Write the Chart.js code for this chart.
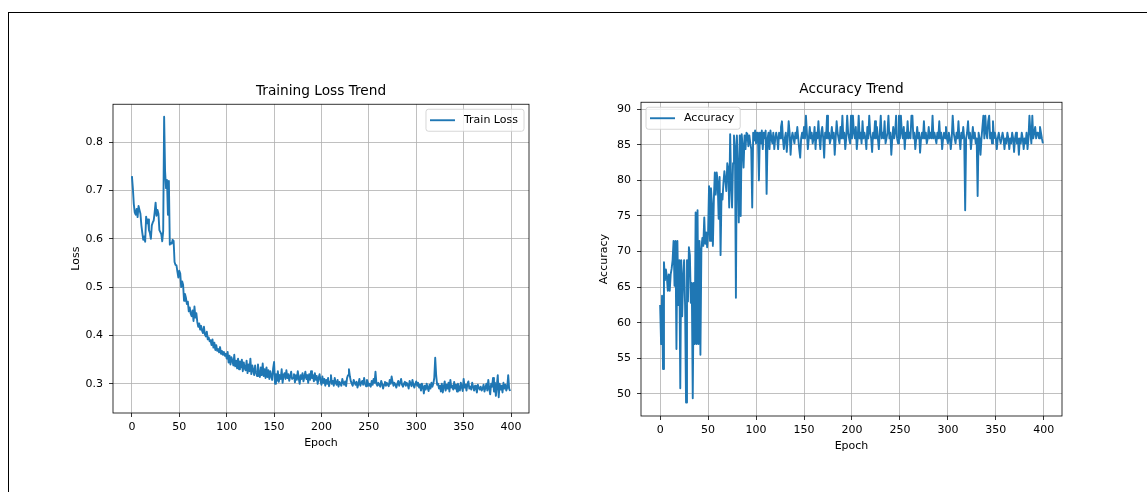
<!DOCTYPE html>
<html>
<head>
<meta charset="utf-8">
<title>Training Loss and Accuracy</title>
<script src="https://cdn.jsdelivr.net/npm/chart.js@4.4.1/dist/chart.umd.min.js"></script>
<style>
    html, body { margin: 0; padding: 0; background: #fff; }
    body { width: 1147px; height: 492px; position: relative; overflow: hidden; }
    .frame {
        position: absolute; left: 8px; top: 12px; width: 1200px; height: 500px;
        border-top: 1.5px solid #000; border-left: 1px solid #000;
    }
    canvas { position: absolute; top: 0; }
    #lossChart { left: 0; }
    #accuracyChart { left: 573px; }
</style>
</head>
<body>
<div class="frame"></div>
<canvas id="lossChart" width="573" height="492"></canvas>
<canvas id="accuracyChart" width="574" height="492"></canvas>
<script>
const epochTicks = [0, 50, 100, 150, 200, 250, 300, 350, 400];
const lossTicks = [0.3, 0.4, 0.5, 0.6, 0.7, 0.8];
const accuracyTicks = [50, 55, 60, 65, 70, 75, 80, 85, 90];

const epochRange = [-19.95, 418.95];
const lossRange = [0.2395, 0.8787];
const accuracyRange = [46.9, 90.98];

const trainLoss = [
    0.730, 0.705, 0.672, 0.655, 0.650, 0.662, 0.645, 0.668, 0.660, 0.652,
    0.628, 0.612, 0.598, 0.605, 0.594, 0.646, 0.632, 0.640, 0.618, 0.612,
    0.600, 0.628, 0.634, 0.638, 0.655, 0.675, 0.648, 0.660, 0.652, 0.618,
    0.614, 0.610, 0.595, 0.616, 0.853, 0.740, 0.705, 0.722, 0.650, 0.720,
    0.588, 0.592, 0.590, 0.598, 0.596, 0.552, 0.546, 0.545, 0.532, 0.520,
    0.534, 0.528, 0.500, 0.512, 0.505, 0.472, 0.486, 0.478, 0.465, 0.470,
    0.450, 0.458, 0.445, 0.440, 0.452, 0.430, 0.460, 0.437, 0.446, 0.428,
    0.418, 0.425, 0.412, 0.420, 0.410, 0.405, 0.418, 0.402, 0.398, 0.408,
    0.392, 0.396, 0.388, 0.390, 0.380, 0.392, 0.375, 0.385, 0.370, 0.380,
    0.368, 0.372, 0.365, 0.376, 0.362, 0.368, 0.360, 0.366, 0.358, 0.362,
    0.352, 0.366, 0.344, 0.358, 0.340, 0.355, 0.348, 0.338, 0.360, 0.336,
    0.348, 0.332, 0.352, 0.330, 0.346, 0.334, 0.350, 0.326, 0.344, 0.332,
    0.328, 0.348, 0.322, 0.340, 0.326, 0.352, 0.320, 0.338, 0.328, 0.318,
    0.338, 0.324, 0.316, 0.340, 0.320, 0.314, 0.334, 0.318, 0.342, 0.316,
    0.330, 0.312, 0.334, 0.314, 0.328, 0.310, 0.326, 0.316, 0.308, 0.332,
    0.345, 0.300, 0.320, 0.306, 0.326, 0.304, 0.318, 0.310, 0.330, 0.302,
    0.318, 0.322, 0.310, 0.328, 0.312, 0.320, 0.306, 0.315, 0.325, 0.310,
    0.312, 0.320, 0.303, 0.318, 0.308, 0.326, 0.312, 0.300, 0.318, 0.310,
    0.322, 0.305, 0.315, 0.325, 0.310, 0.318, 0.302, 0.320, 0.308, 0.326,
    0.312, 0.318, 0.305, 0.322, 0.308, 0.316, 0.300, 0.312, 0.320, 0.306,
    0.298, 0.315, 0.302, 0.310, 0.296, 0.308, 0.300, 0.312, 0.295, 0.305,
    0.318, 0.300, 0.306, 0.296, 0.312, 0.302, 0.298, 0.308, 0.294, 0.304,
    0.300, 0.296, 0.310, 0.302, 0.298, 0.305, 0.295, 0.312, 0.318, 0.330,
    0.315, 0.305, 0.300, 0.296, 0.308, 0.302, 0.298, 0.304, 0.292, 0.300,
    0.310, 0.296, 0.302, 0.306, 0.298, 0.312, 0.300, 0.295, 0.308, 0.302,
    0.296, 0.300, 0.294, 0.306, 0.298, 0.310, 0.302, 0.325, 0.300, 0.296,
    0.302, 0.298, 0.294, 0.306, 0.300, 0.290, 0.298, 0.304, 0.296, 0.302,
    0.298, 0.295, 0.308, 0.300, 0.315, 0.304, 0.296, 0.302, 0.298, 0.292,
    0.300, 0.306, 0.296, 0.302, 0.310, 0.298, 0.294, 0.300, 0.304, 0.296,
    0.302, 0.298, 0.290, 0.306, 0.300, 0.295, 0.308, 0.298, 0.292, 0.300,
    0.305, 0.296, 0.302, 0.292, 0.298, 0.286, 0.300, 0.294, 0.280, 0.296,
    0.288, 0.300, 0.292, 0.285, 0.298, 0.290, 0.302, 0.294, 0.300, 0.312,
    0.354, 0.318, 0.298, 0.300, 0.290, 0.296, 0.284, 0.300, 0.282, 0.294,
    0.305, 0.286, 0.298, 0.290, 0.302, 0.284, 0.308, 0.292, 0.296, 0.288,
    0.304, 0.290, 0.298, 0.284, 0.300, 0.292, 0.286, 0.302, 0.294, 0.285,
    0.310, 0.292, 0.298, 0.286, 0.300, 0.305, 0.290, 0.294, 0.288, 0.302,
    0.294, 0.286, 0.296, 0.290, 0.282, 0.298, 0.292, 0.288, 0.294, 0.286,
    0.290, 0.298, 0.284, 0.292, 0.300, 0.286, 0.308, 0.290, 0.278, 0.300,
    0.294, 0.312, 0.284, 0.302, 0.275, 0.296, 0.318, 0.272, 0.300, 0.288,
    0.296, 0.282, 0.302, 0.290, 0.298, 0.286, 0.292, 0.318, 0.290, 0.285
];

const accuracy = [
    62.5, 57.0, 63.8, 53.5, 68.5, 66.0, 67.5, 66.4, 64.5, 66.8,
    64.5, 66.8, 67.6, 68.8, 71.5, 65.2, 71.5, 56.3, 71.5, 62.5,
    68.8, 50.8, 68.8, 60.9, 66.4, 68.8, 62.5, 48.8, 68.8, 63.0,
    70.6, 69.5, 62.8, 65.6, 49.4, 65.6, 57.0, 75.5, 57.0, 75.8,
    57.0, 71.5, 55.5, 70.3, 71.9, 70.8, 74.8, 71.1, 72.7, 70.6,
    72.7, 79.2, 71.5, 78.9, 76.6, 70.8, 77.3, 81.1, 78.0, 81.1,
    79.7, 74.6, 80.5, 69.5, 78.1, 77.3, 79.7, 81.3, 80.0, 78.5,
    82.4, 81.6, 76.2, 86.5, 79.3, 76.2, 82.4, 86.3, 84.8, 63.5,
    86.3, 82.0, 74.1, 86.3, 75.0, 86.5, 84.8, 81.8, 86.3, 84.4,
    86.7, 86.5, 84.8, 86.3, 85.2, 84.4, 76.2, 86.7, 85.6, 87.0,
    85.2, 86.7, 85.9, 80.0, 86.7, 85.2, 87.0, 84.4, 86.7, 85.9,
    87.0, 78.1, 85.9, 86.7, 84.4, 87.0, 85.9, 85.2, 86.7, 84.4,
    85.9, 86.7, 85.9, 84.4, 86.7, 85.9, 87.5, 88.3, 85.9, 84.4,
    85.9, 86.7, 84.0, 85.9, 88.3, 86.7, 83.6, 85.9, 86.7, 85.9,
    85.2, 86.7, 85.9, 87.5, 85.9, 84.4, 83.2, 85.9, 86.7, 85.9,
    87.5, 85.9, 89.1, 86.7, 84.4, 85.9, 87.5, 85.9, 86.7, 85.2,
    85.9, 87.5, 84.4, 86.7, 85.9, 88.3, 85.9, 84.4, 86.7, 87.5,
    85.9, 83.2, 86.7, 85.9, 89.1, 85.9, 86.7, 85.2, 85.9, 87.5,
    85.9, 86.7, 83.6, 85.9, 88.3, 86.7, 85.9, 85.2, 87.5, 85.9,
    89.1, 85.9, 86.7, 84.4, 85.9, 89.1, 86.7, 85.9, 85.2, 89.1,
    85.9, 89.1, 86.7, 85.9, 87.5, 84.4, 85.9, 89.1, 85.9, 86.7,
    85.2, 88.3, 85.9, 86.7, 85.9, 84.4, 87.5, 85.9, 89.1, 86.7,
    85.9, 84.0, 86.7, 85.9, 88.3, 85.9, 87.5, 85.9, 84.4, 86.7,
    89.1, 85.9, 86.7, 85.9, 88.3, 85.2, 85.9, 86.7, 89.1, 85.9,
    86.7, 83.6, 85.9, 87.5, 85.9, 86.7, 89.1, 85.9, 85.2, 89.1,
    85.9, 89.1, 86.7, 85.9, 87.5, 84.4, 86.7, 85.9, 88.3, 85.9,
    86.7, 85.9, 89.1, 89.1, 85.9, 86.7, 84.4, 85.9, 87.5, 85.9,
    86.7, 83.9, 85.9, 86.7, 85.9, 88.3, 85.9, 86.7, 85.2, 85.9,
    87.5, 85.9, 86.7, 85.9, 89.1, 85.9, 86.7, 85.9, 85.2, 86.7,
    85.9, 88.3, 85.9, 86.7, 84.4, 85.9, 86.7, 85.9, 87.5, 85.9,
    85.2, 86.7, 85.9, 84.4, 85.9, 89.1, 86.7, 85.9, 85.2, 86.7,
    85.9, 88.3, 85.9, 84.4, 86.7, 85.9, 87.5, 85.9, 75.8, 85.9,
    86.7, 88.3, 85.9, 86.7, 84.4, 85.9, 87.5, 85.9, 86.7, 85.2,
    85.9, 77.8, 86.7, 85.9, 83.6, 85.9, 87.5, 89.1, 85.9, 89.1,
    86.7, 85.9, 88.3, 89.1, 85.9, 86.7, 85.2, 88.3, 85.9, 86.7,
    85.9, 84.4, 85.9, 86.7, 85.9, 85.2, 85.9, 86.7, 85.9, 84.4,
    85.9, 85.2, 86.7, 85.9, 84.4, 85.9, 85.2, 86.7, 85.9, 84.0,
    85.9, 86.7, 85.2, 85.9, 83.6, 85.9, 85.2, 86.7, 85.9, 84.4,
    85.9, 85.2, 86.7, 84.4, 85.9, 89.1, 86.7, 85.2, 89.1, 85.9,
    86.7, 87.5, 85.9, 86.7, 86.7, 85.9, 87.5, 86.7, 85.9, 85.2
];

const epochs = trainLoss.map((_, i) => i);

const FONT = '"DejaVu Sans", sans-serif';
const LINE_COLOR = '#1f77b4';
const LINE_WIDTH = 1.9;

// matplotlib-style box around the axes plus the framed legend
const axesFrame = {
    id: 'axesFrame',
    afterDatasetsDraw(chart, args, opts) {
        const { ctx, chartArea: area } = chart;
        const dataset = chart.data.datasets[0];
        ctx.save();
        ctx.strokeStyle = '#000';
        ctx.lineWidth = 0.8;
        ctx.strokeRect(area.left, area.top, area.right - area.left, area.bottom - area.top);

        ctx.font = '11px ' + FONT;
        const boxW = 38 + ctx.measureText(dataset.label).width + 6;
        const boxH = 22;
        const boxX = opts.corner === 'left' ? area.left + 5 : area.right - 5 - boxW;
        const boxY = area.top + 5;
        ctx.beginPath();
        ctx.roundRect(boxX, boxY, boxW, boxH, 2.5);
        ctx.fillStyle = 'rgba(255, 255, 255, 0.8)';
        ctx.fill();
        ctx.strokeStyle = '#cccccc';
        ctx.stroke();

        ctx.beginPath();
        ctx.moveTo(boxX + 4, boxY + boxH / 2);
        ctx.lineTo(boxX + 29, boxY + boxH / 2);
        ctx.strokeStyle = dataset.borderColor;
        ctx.lineWidth = LINE_WIDTH;
        ctx.stroke();

        ctx.fillStyle = '#000';
        ctx.textBaseline = 'middle';
        ctx.fillText(dataset.label, boxX + 38, boxY + boxH / 2);
        ctx.restore();
    }
};

function axisOptions(title, range, tickValues, format, fit, pad) {
    return {
        type: 'linear',
        min: range[0],
        max: range[1],
        afterBuildTicks(axis) {
            axis.ticks = tickValues.map(value => ({ value }));
        },
        afterFit: fit,
        title: {
            display: true,
            text: title,
            color: '#000',
            padding: 0,
            font: { family: FONT, size: 11 }
        },
        grid: {
            color: '#b0b0b0',
            lineWidth: 0.8,
            drawTicks: true,
            tickLength: 4,
            tickColor: '#000',
            tickWidth: 0.8
        },
        border: { display: false },
        ticks: {
            autoSkip: false,
            maxRotation: 0,
            padding: pad,
            color: '#000',
            font: { family: FONT, size: 11 },
            callback: format
        }
    };
}

function createTrendChart(canvasId, setup) {
    return new Chart(document.getElementById(canvasId).getContext('2d'), {
        type: 'line',
        data: {
            datasets: [{
                label: setup.label,
                data: setup.values.map((v, i) => ({ x: epochs[i], y: v })),
                borderColor: LINE_COLOR,
                borderWidth: LINE_WIDTH,
                borderJoinStyle: 'round',
                pointRadius: 0,
                tension: 0,
                fill: false
            }]
        },
        options: {
            responsive: false,
            animation: false,
            events: [],
            layout: { padding: setup.padding },
            plugins: {
                legend: { display: false },
                tooltip: { enabled: false },
                title: {
                    display: true,
                    text: setup.title,
                    fullSize: false,
                    color: '#000',
                    font: { family: FONT, size: 13.7, weight: 'normal' },
                    padding: setup.titlePadding
                },
                axesFrame: { corner: setup.legendCorner }
            },
            scales: {
                x: axisOptions('Epoch', epochRange, epochTicks, v => String(v), axis => { axis.height = 36.6; }, 4),
                y: axisOptions(setup.yTitle, setup.yRange, setup.yTicks, setup.tickFormat, axis => { axis.width = 43.6; }, 6)
            }
        },
        plugins: [axesFrame]
    });
}

createTrendChart('lossChart', {
    label: 'Train Loss',
    title: 'Training Loss Trend',
    yTitle: 'Loss',
    values: trainLoss,
    yRange: lossRange,
    yTicks: lossTicks,
    tickFormat: v => v.toFixed(1),
    legendCorner: 'right',
    padding: { left: 69.4, right: 44, top: 0, bottom: 42.4 },
    titlePadding: { top: 82.9, bottom: 4.9 }
});

createTrendChart('accuracyChart', {
    label: 'Accuracy',
    title: 'Accuracy Trend',
    yTitle: 'Accuracy',
    values: accuracy,
    yRange: accuracyRange,
    yTicks: accuracyTicks,
    tickFormat: v => String(v),
    legendCorner: 'left',
    padding: { left: 24.4, right: 85, top: 0, bottom: 39.4 },
    titlePadding: { top: 80.9, bottom: 4.9 }
});
</script>
</body>
</html>
